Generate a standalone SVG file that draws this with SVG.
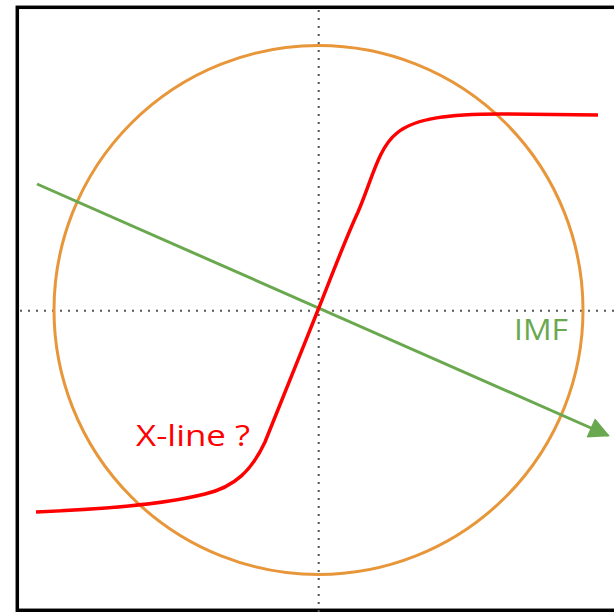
<svg xmlns="http://www.w3.org/2000/svg" width="614" height="612" viewBox="0 0 614 612">
<style>
.frame{fill:none;stroke:#000;stroke-width:3.5}
.axis{fill:none;stroke:#555;stroke-width:2;stroke-dasharray:2 6}
.lbl{font-family:"Open Sans","Liberation Sans",sans-serif;font-size:29px}
</style>
<defs>
<marker id="ah" viewBox="0 0 10 10" refX="9" refY="5" markerWidth="8" markerHeight="7" markerUnits="strokeWidth" orient="auto">
<path d="M0,0 L10,5 L0,10 Z" fill="#6AA84F"/>
</marker>
</defs>
<rect id="frame" class="frame" x="17.3" y="7.3" width="700" height="603"/>
<g id="axes">
<line class="axis" x1="318.7" y1="10" x2="318.7" y2="612"/>
<line class="axis" x1="20" y1="310.7" x2="614" y2="310.7"/>
</g>
<g id="circle">
<circle cx="318.5" cy="310" r="264.5" fill="none" stroke="#E8963A" stroke-width="3"/>
</g>
<g id="connectors">
<line x1="37" y1="184" x2="608" y2="435.5" stroke="#6AA84F" stroke-width="3" marker-end="url(#ah)"/>
</g>
<g id="xline">
<path d="M36,512 C110,509 170,503 205,494 C235,487 252,470 265,442 C280,405 300,355 318,310 C332,275 345,240 358,212 C372,180 378,148 397,133 C415,118 450,114 500,114 L598,115" fill="none" stroke="#FF0000" stroke-width="3.5"/>
</g>
<g id="labels">
<text class="lbl" x="514" y="340" fill="#6AA84F" textLength="54" lengthAdjust="spacingAndGlyphs">IMF</text>
<text class="lbl" x="136" y="446" fill="#FF0000" textLength="114" lengthAdjust="spacingAndGlyphs">X-line ?</text>
</g>
</svg>
